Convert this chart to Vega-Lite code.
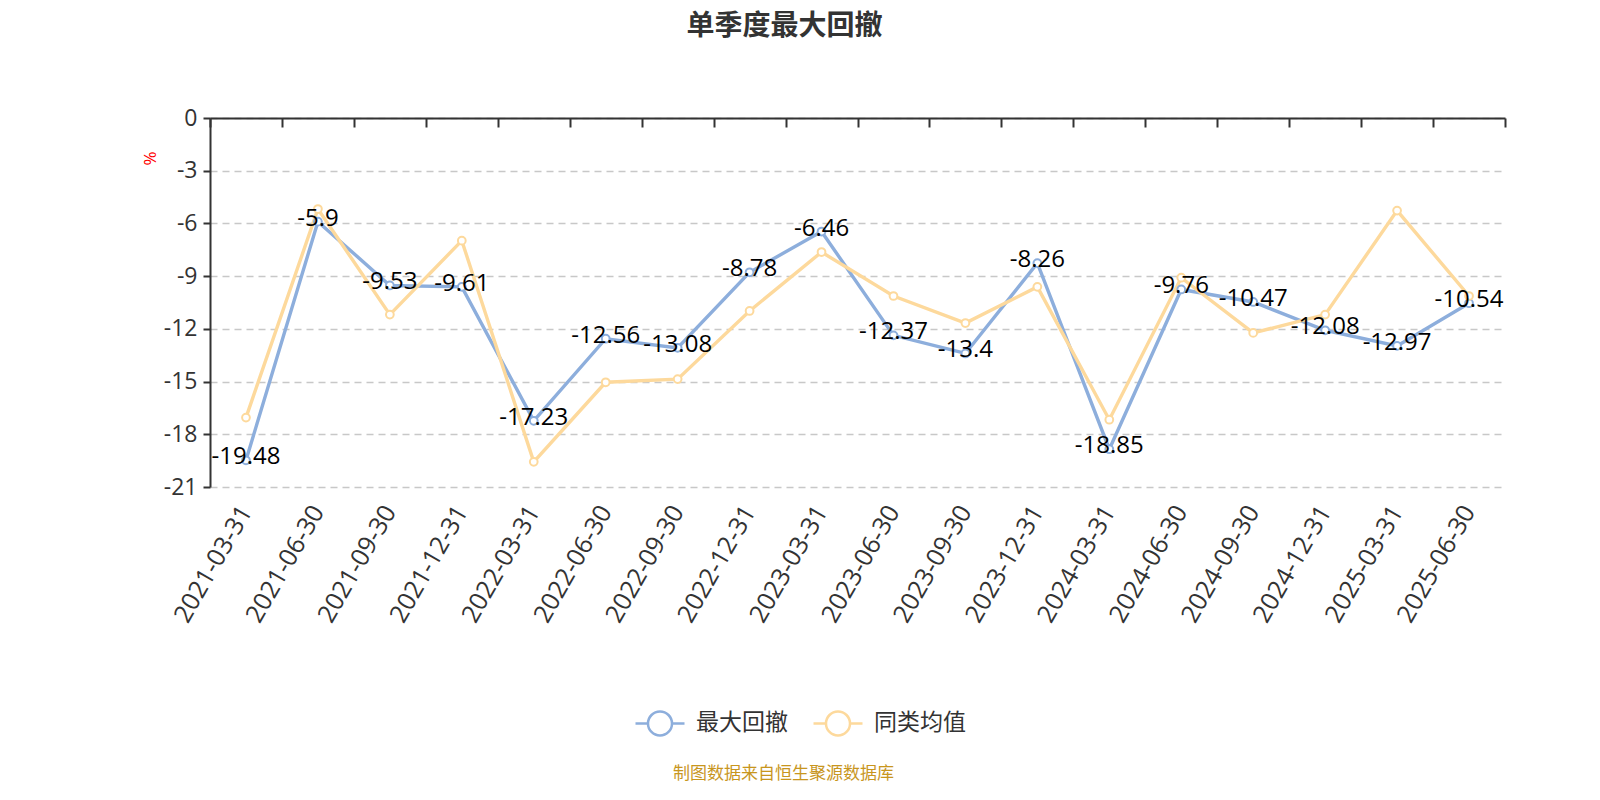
{
  "$schema": "https://vega.github.io/schema/vega-lite/v6.json",
  "autosize": {"type": "none"},
  "width": 1295,
  "height": 369,
  "padding": {"left": 210, "top": 118, "right": 95, "bottom": 313},
  "background": "white",
  "config": {
    "font": "Open Sans, Noto Sans CJK SC",
    "view": {"stroke": null},
    "locale": {"number": {"decimal": ".", "thousands": ",", "grouping": [3], "currency": ["", ""], "minus": "-"}}
  },
  "title": {
    "text": "单季度最大回撤",
    "fontSize": 28,
    "fontWeight": "bold",
    "color": "#333333",
    "font": "Noto Sans CJK SC",
    "anchor": "middle",
    "baseline": "middle",
    "dx": -73,
    "offset": 52
  },
  "data": {
    "values": [
      {"date": "2021-03-31", "series": "最大回撤", "value": -19.48},
      {"date": "2021-06-30", "series": "最大回撤", "value": -5.9},
      {"date": "2021-09-30", "series": "最大回撤", "value": -9.53},
      {"date": "2021-12-31", "series": "最大回撤", "value": -9.61},
      {"date": "2022-03-31", "series": "最大回撤", "value": -17.23},
      {"date": "2022-06-30", "series": "最大回撤", "value": -12.56},
      {"date": "2022-09-30", "series": "最大回撤", "value": -13.08},
      {"date": "2022-12-31", "series": "最大回撤", "value": -8.78},
      {"date": "2023-03-31", "series": "最大回撤", "value": -6.46},
      {"date": "2023-06-30", "series": "最大回撤", "value": -12.37},
      {"date": "2023-09-30", "series": "最大回撤", "value": -13.4},
      {"date": "2023-12-31", "series": "最大回撤", "value": -8.26},
      {"date": "2024-03-31", "series": "最大回撤", "value": -18.85},
      {"date": "2024-06-30", "series": "最大回撤", "value": -9.76},
      {"date": "2024-09-30", "series": "最大回撤", "value": -10.47},
      {"date": "2024-12-31", "series": "最大回撤", "value": -12.08},
      {"date": "2025-03-31", "series": "最大回撤", "value": -12.97},
      {"date": "2025-06-30", "series": "最大回撤", "value": -10.54},
      {"date": "2021-03-31", "series": "同类均值", "value": -17.05},
      {"date": "2021-06-30", "series": "同类均值", "value": -5.18},
      {"date": "2021-09-30", "series": "同类均值", "value": -11.19},
      {"date": "2021-12-31", "series": "同类均值", "value": -6.98},
      {"date": "2022-03-31", "series": "同类均值", "value": -19.57},
      {"date": "2022-06-30", "series": "同类均值", "value": -15.04},
      {"date": "2022-09-30", "series": "同类均值", "value": -14.86},
      {"date": "2022-12-31", "series": "同类均值", "value": -10.98},
      {"date": "2023-03-31", "series": "同类均值", "value": -7.63},
      {"date": "2023-06-30", "series": "同类均值", "value": -10.13},
      {"date": "2023-09-30", "series": "同类均值", "value": -11.67},
      {"date": "2023-12-31", "series": "同类均值", "value": -9.61},
      {"date": "2024-03-31", "series": "同类均值", "value": -17.17},
      {"date": "2024-06-30", "series": "同类均值", "value": -9.09},
      {"date": "2024-09-30", "series": "同类均值", "value": -12.23},
      {"date": "2024-12-31", "series": "同类均值", "value": -11.19},
      {"date": "2025-03-31", "series": "同类均值", "value": -5.27},
      {"date": "2025-06-30", "series": "同类均值", "value": -10.13}
    ]
  },
  "encoding": {
    "y": {
      "field": "value",
      "type": "quantitative",
      "scale": {"domain": [-21, 0], "nice": false, "zero": false},
      "axis": {
        "values": [0, -3, -6, -9, -12, -15, -18, -21],
        "title": "%",
        "titleColor": "#ff0000",
        "titleFontSize": 17,
        "titleFontWeight": "normal",
        "titleAngle": -90,
        "titleX": -60,
        "titleY": 40,
        "titleAlign": "center",
        "titleBaseline": "middle",
        "labelFontSize": 23,
        "labelColor": "#333333",
        "labelPadding": 6,
        "domainColor": "#333333",
        "domainWidth": 2,
        "tickColor": "#333333",
        "tickWidth": 2,
        "tickSize": 7,
        "grid": true,
        "gridColor": "#c8c8c8",
        "gridDash": [7, 5],
        "gridWidth": 1.5
      }
    }
  },
  "layer": [
    {
      "mark": {"type": "line", "strokeWidth": 3.4},
      "encoding": {
        "x": {
          "field": "date",
          "type": "ordinal",
          "bandPosition": 0.5,
          "scale": {"type": "band", "paddingInner": 0, "paddingOuter": 0},
          "axis": {
            "orient": "top",
            "labels": false,
            "title": null,
            "grid": false,
            "domain": true,
            "domainColor": "#333333",
            "domainWidth": 2,
            "ticks": true,
            "tickBand": "extent",
            "tickSize": -9,
            "tickColor": "#333333",
            "tickWidth": 2
          }
        },
        "color": {
          "field": "series",
          "type": "nominal",
          "sort": ["最大回撤", "同类均值"],
          "scale": {"domain": ["最大回撤", "同类均值"], "range": ["#8DAEDC", "#FDD99C"]},
          "legend": {
            "orient": "none",
            "legendX": 424,
            "legendY": 579,
            "direction": "horizontal",
            "title": null,
            "symbolType": "M-1,0L-0.49,0M0.49,0L1,0M-0.49,0A0.49,0.49,0,1,1,0.49,0A0.49,0.49,0,1,1,-0.49,0Z",
            "symbolSize": 2401,
            "symbolStrokeWidth": 2.5,
            "symbolFillColor": "white",
            "labelFontSize": 23,
            "labelColor": "#333333",
            "labelFont": "Noto Sans CJK SC",
            "labelOffset": 10,
            "columnPadding": 20
          }
        }
      }
    },
    {
      "mark": {"type": "point", "filled": false, "fill": "white", "opacity": 1, "strokeWidth": 2, "size": 60},
      "encoding": {
        "x": {"field": "date", "type": "ordinal", "bandPosition": 0.5, "axis": null},
        "color": {"field": "series", "type": "nominal", "sort": ["最大回撤", "同类均值"]}
      }
    },
    {
      "transform": [{"filter": "datum.series === '最大回撤'"}],
      "mark": {"type": "text", "fontSize": 24, "color": "#000000", "dy": -3, "baseline": "middle", "align": "center"},
      "encoding": {
        "x": {
          "field": "date",
          "type": "ordinal",
          "bandPosition": 0.5,
          "axis": {
            "orient": "bottom",
            "domain": false,
            "ticks": false,
            "grid": false,
            "labelAngle": -60,
            "labelAlign": "right",
            "labelBaseline": "middle",
            "labelFontSize": 25,
            "labelColor": "#333333",
            "labelPadding": 20,
            "title": "制图数据来自恒生聚源数据库",
            "titleColor": "#C8961E",
            "titleFontSize": 17,
            "titleFontWeight": "normal",
            "titleFont": "Noto Sans CJK SC",
            "titleX": 573,
            "titleY": 286,
            "titleAlign": "center",
            "titleBaseline": "middle"
          }
        },
        "text": {"field": "value", "type": "quantitative"}
      }
    }
  ],
  "resolve": {"axis": {"x": "independent"}}
}
